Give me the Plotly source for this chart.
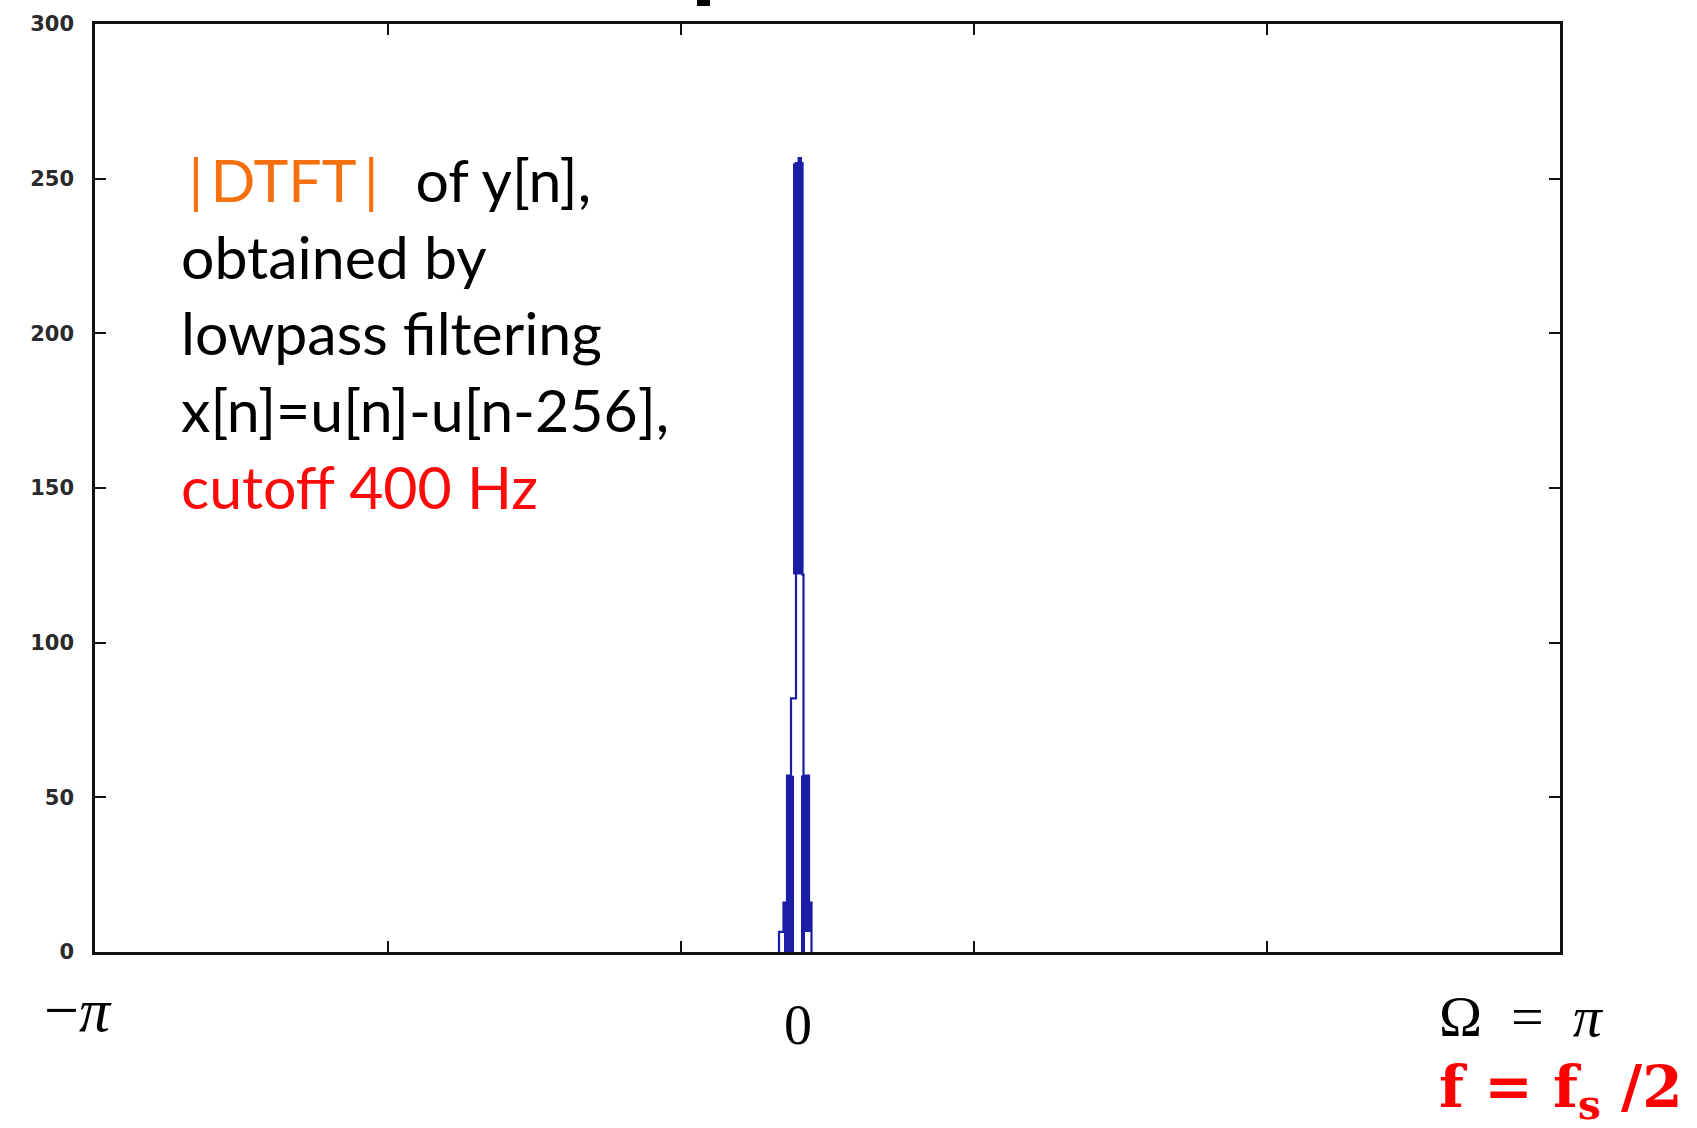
import math
import plotly.graph_objects as go

# ---------------- data ----------------
# Omega in rad, the narrow spike sits at Omega = 0
# outline (stairs) of |DTFT|: bin edges and heights
stair_edges = [-0.0815, -0.0622, -0.0472, -0.0300, -0.0086, 0.0193, 0.0236, 0.0472, 0.0579]
stair_heights = [6.5, 16, 57, 82, 255, 122, 57, 16]

# densely drawn (solid looking) parts of the spike
block_left = [-0.0600, -0.0515, -0.0214, -0.0021, 0.0129, 0.0129, 0.0214]
block_right = [-0.0343, -0.0172, 0.0172, 0.0172, 0.0300, 0.0472, 0.0579]
block_low = [0, 0, 122, 255, 0, 6.5, 6.5]
block_high = [16, 57, 255, 257, 57, 57, 16]

y_ticks = [0, 50, 100, 150, 200, 250, 300]

# ---------------- figure ----------------
BLUE = "#1c1ca6"
fig = go.Figure()

fig.add_trace(go.Bar(
    x=[(l + r) / 2 for l, r in zip(block_left, block_right)],
    y=[h - b for h, b in zip(block_high, block_low)],
    base=block_low,
    width=[r - l for l, r in zip(block_left, block_right)],
    marker=dict(color=BLUE, line=dict(width=0)),
    showlegend=False, hoverinfo="skip",
))

sx = [stair_edges[0]] + stair_edges
sy = [0] + stair_heights + [0]
fig.add_trace(go.Scatter(
    x=sx, y=sy, mode="lines",
    line=dict(color=BLUE, width=2.2, shape="hv"),
    showlegend=False, hoverinfo="skip",
))

x_lo = -3.0151
x_hi = x_lo + 2 * math.pi
x_tickvals = [x_lo + k * (x_hi - x_lo) / 5 for k in range(6)]

axis_common = dict(
    showline=True, linecolor="#111", linewidth=2.5, mirror="ticks",
    ticks="inside", ticklen=11, tickwidth=2, tickcolor="#111",
    showgrid=False, zeroline=False,
)

fig.update_layout(
    width=1697, height=1128,
    margin=dict(l=95, r=137, t=24, b=176),
    paper_bgcolor="white", plot_bgcolor="white",
    barmode="overlay",
    xaxis=dict(range=[x_lo, x_hi], tickvals=x_tickvals, showticklabels=False, **axis_common),
    yaxis=dict(range=[0, 300], tickvals=y_ticks, ticklabelstandoff=14,
               tickfont=dict(family="DejaVu Sans", size=21, color="#2a2a2a", weight="bold"),
               **axis_common),
    showlegend=False,
)

# text block
fig.add_annotation(
    xref="paper", yref="paper", x=0.057, y=0.6675, xanchor="left", yanchor="middle",
    align="left", showarrow=False,
    font=dict(family="Lato", size=59, color="black"),
    text=("<span style='color:#f7700f'>\u2009|\u2009DTFT\u2009|</span>\u2002\u2009of y[n],<br>"
          "obtained by<br>lowpass filtering<br>x[n]=u[n]-u[n-256],<br>"
          "<span style='color:#ff0a0a'>cutoff 400 Hz</span>"),
)

# axis end labels
fig.add_annotation(xref="paper", yref="paper", x=-0.0116, y=-0.0630,
                   xanchor="center", yanchor="middle", showarrow=False,
                   font=dict(family="Liberation Serif", size=62, color="black"),
                   text="\u2212<i>\u03c0</i>")
fig.add_annotation(xref="x", yref="paper", x=0, y=-0.0787,
                   xanchor="center", yanchor="middle", showarrow=False,
                   font=dict(family="Liberation Serif", size=56, color="black"),
                   text="0")
fig.add_annotation(xref="paper", yref="paper", x=0.9160, y=-0.0690,
                   xanchor="left", yanchor="middle", showarrow=False,
                   font=dict(family="Liberation Serif", size=58, color="black"),
                   text="\u03a9\u2002=\u2002<i>\u03c0</i>")
fig.add_annotation(xref="paper", yref="paper", x=0.9160, y=-0.1498,
                   xanchor="left", yanchor="middle", showarrow=False,
                   font=dict(family="DejaVu Serif", size=58, color="#ff0000", weight="bold"),
                   text="f = f<sub>s</sub> /2")

# remnant of a cut-off title at the very top
fig.add_shape(type="rect", xref="paper", yref="paper",
              x0=0.4109, x1=0.4198, y0=1.0194, y1=1.03,
              fillcolor="black", line=dict(width=0))

fig.write_html("out.html")
